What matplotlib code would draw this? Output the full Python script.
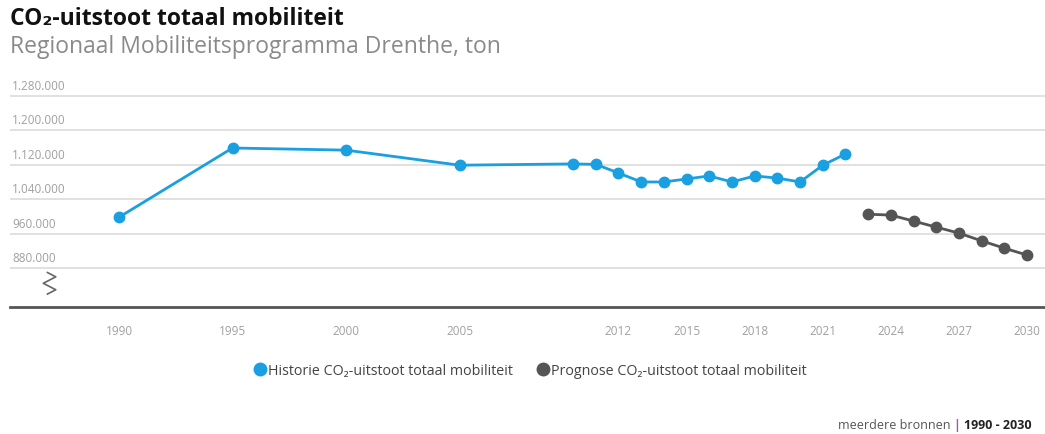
import matplotlib.pyplot as plt
import numpy as np

plt.rcParams['font.family'] = ['Open Sans', 'DejaVu Sans']

hist_years = [1990, 1995, 2000, 2005, 2010, 2011, 2012, 2013, 2014, 2015, 2016,
              2017, 2018, 2019, 2020, 2021, 2022]
hist_values = [998000, 1159000, 1154000, 1119000, 1122000, 1121000, 1101000,
               1080000, 1080000, 1087000, 1094000, 1080000, 1094000, 1089000,
               1080000, 1119000, 1145000]

prog_years = [2023, 2024, 2025, 2026, 2027, 2028, 2029, 2030]
prog_values = [1005000, 1003000, 989000, 975000, 961000, 943000, 926000, 910000]

x_ticks = [1990, 1995, 2000, 2005, 2012, 2015, 2018, 2021, 2024, 2027, 2030]
y_ticks = [880000, 960000, 1040000, 1120000, 1200000, 1280000]
y_labels = ["880.000", "960.000", "1.040.000", "1.120.000", "1.200.000", "1.280.000"]

blue = "#1a9fe0"
grey = "#555555"

fig = plt.figure(figsize=(10.45, 4.35), dpi=100)
ax = fig.add_axes([0.0096, 0.292, 0.995, 0.495])

ax.set_xlim(1985.2, 2031.0)
ax.set_ylim(789300, 1290000)

# gridlines + labels sitting above them
for v, lab in zip(y_ticks, y_labels):
    ax.axhline(v, color="#dcdcdc", lw=1.2, zorder=0)
    ax.text(0.002, v + 9000, lab, transform=ax.get_yaxis_transform(),
            ha="left", va="bottom", fontsize=8.5, color="#a0a0a0")

ax.plot(hist_years, hist_values, color=blue, lw=2, marker="o", ms=7.5,
        label="Historie CO\u2082-uitstoot totaal mobiliteit", zorder=3)
ax.plot(prog_years, prog_values, color=grey, lw=2, marker="o", ms=7.5,
        label="Prognose CO\u2082-uitstoot totaal mobiliteit", zorder=3)

# axis break symbol
zx = np.array([0.036, 0.044, 0.032, 0.044, 0.036])
zy = np.array([0.16, 0.14, 0.11, 0.08, 0.06])
ax.plot(zx, zy, transform=ax.transAxes, color="#666666", lw=1.2, clip_on=False)

for s in ["top", "right", "left"]:
    ax.spines[s].set_visible(False)
ax.spines["bottom"].set_color("#555555")
ax.spines["bottom"].set_linewidth(2)

ax.set_yticks([])
ax.set_xticks(x_ticks)
ax.set_xticklabels([str(y) for y in x_ticks])
ax.tick_params(axis="x", length=0, pad=12, labelsize=8.5, labelcolor="#a0a0a0")

fig.text(0.0096, 0.957, "CO\u2082-uitstoot totaal mobiliteit", fontsize=16.5,
         fontweight="bold", color="#111111", va="center")
fig.text(0.0096, 0.893, "Regionaal Mobiliteitsprogramma Drenthe, ton", fontsize=16.5,
         color="#8a8a8a", va="center")

fig.legend(loc="center", bbox_to_anchor=(0.508, 0.145), ncol=2, frameon=False,
           fontsize=10.3, handlelength=0.7, handletextpad=0.2, columnspacing=1.8,
           markerscale=1.2, labelcolor="#444444")
leg = fig.legends[0]
for h in leg.legend_handles:
    h.set_linestyle("none")

t1 = fig.text(0.802, 0.022, "meerdere bronnen ", fontsize=9, color="#555555",
              va="center")
t2 = fig.text(0, 0, "| ", fontsize=9, color="#9a5ca8", fontweight="bold",
              va="center")
t3 = fig.text(0, 0, "1990 - 2030", fontsize=9, color="#222222",
              fontweight="bold", va="center")
fig.canvas.draw()
r = fig.canvas.get_renderer()
bb1 = t1.get_window_extent(r).transformed(fig.transFigure.inverted())
t2.set_position((bb1.x1, 0.022))
bb2 = t2.get_window_extent(r).transformed(fig.transFigure.inverted())
t3.set_position((bb2.x1, 0.022))

fig.savefig("out.png", dpi=100)
